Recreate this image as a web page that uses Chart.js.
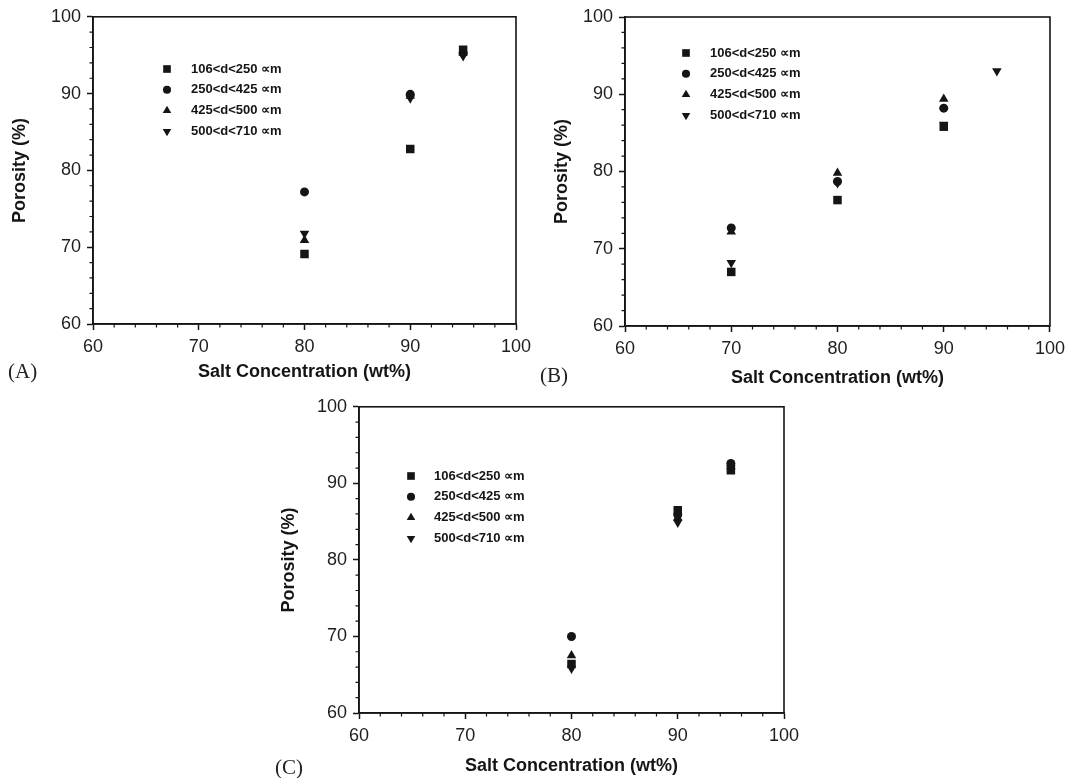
<!DOCTYPE html>
<html>
<head>
<meta charset="utf-8">
<script src="https://cdn.jsdelivr.net/npm/chart.js@4.4.1/dist/chart.umd.min.js"></script>
<style>
  body { margin: 0; background: #fff; }
  .panel { position: absolute; }
</style>
</head>
<body>
<div class="panel" id="wrapA"><canvas id="chartA"></canvas></div>
<div class="panel" id="wrapB"><canvas id="chartB"></canvas></div>
<div class="panel" id="wrapC"><canvas id="chartC"></canvas></div>
<script>
// ====== DATA ======
const sizeLabels = ["106<d<250 ∝m", "250<d<425 ∝m", "425<d<500 ∝m", "500<d<710 ∝m"];
const axisTicks = [60, 70, 80, 90, 100];
const minorStep = 2;

// (A)
const concA = [80, 90, 95];
const porA106 = [69.1, 82.8, 95.7];
const porA250 = [77.2, 89.9, 95.3];
const porA425 = [70.9, 89.7, 95.3];
const porA500 = [71.8, 89.4, 94.9];

// (B)
const concB = [70, 80, 90, 95];
const porB106 = [67.0, 76.3, 85.8, null];
const porB250 = [72.7, 78.7, 88.2, null];
const porB425 = [72.2, 79.8, 89.4, null];
const porB500 = [68.2, 78.5, 86.1, 93.0];

// (C)
const concC = [80, 90, 95];
const porC106 = [66.4, 86.5, 91.7];
const porC250 = [70.0, 85.9, 92.6];
const porC425 = [67.5, 85.5, 92.2];
const porC500 = [65.8, 84.9, 92.0];

// marker look per size class
const markers = [
  { pointStyle: "rect", radius: 6.0, rotation: 0 },
  { pointStyle: "circle", radius: 4.5, rotation: 0 },
  { pointStyle: "triangle", radius: 5.5, rotation: 0 },
  { pointStyle: "triangle", radius: 5.5, rotation: 180 }
];

const INK = "#151515";
const SANS = "'Liberation Sans', Arial, sans-serif";

// Frame, minor ticks, inset legend and panel tag
const framePlugin = {
  id: "frame",
  afterDraw(chart, args, opts) {
    const { ctx, chartArea: a, scales } = chart;
    ctx.save();
    ctx.strokeStyle = INK;
    ctx.lineWidth = 1.6;
    ctx.strokeRect(a.left, a.top, a.right - a.left, a.bottom - a.top);

    ctx.lineWidth = 1.2;
    ctx.beginPath();
    for (let v = axisTicks[0]; v <= axisTicks[axisTicks.length - 1]; v += minorStep) {
      if (axisTicks.includes(v)) continue;
      const px = scales.x.getPixelForValue(v);
      ctx.moveTo(px, a.bottom);
      ctx.lineTo(px, a.bottom + 3.5);
      const py = scales.y.getPixelForValue(v);
      ctx.moveTo(a.left, py);
      ctx.lineTo(a.left - 3.5, py);
    }
    ctx.stroke();

    // legend
    ctx.fillStyle = INK;
    ctx.font = "bold 13px " + SANS;
    ctx.textBaseline = "middle";
    ctx.textAlign = "left";
    chart.data.datasets.forEach((ds, i) => {
      const y = opts.legendY + i * 20.8;
      Chart.helpers.drawPoint(ctx, {
        pointStyle: ds.pointStyle,
        rotation: ds.pointRotation,
        radius: ds.pointRadius * 0.9,
        borderWidth: 0
      }, opts.legendX, y);
      ctx.fillText(ds.label, opts.textX, y);
    });

    // panel tag
    ctx.font = "21px 'Liberation Serif', 'Times New Roman', serif";
    ctx.fillStyle = "#222";
    ctx.fillText(opts.tag, opts.tagX, opts.tagY);
    ctx.restore();
  }
};

function makePanel(p) {
  const [cl, ct, cw, ch] = p.canvas;
  const [al, at, ar, ab] = p.area;
  const wrap = document.getElementById("wrap" + p.tagId);
  wrap.style.left = cl + "px";
  wrap.style.top = ct + "px";
  const canvas = document.getElementById("chart" + p.tagId);
  canvas.width = cw;
  canvas.height = ch;
  canvas.style.width = cw + "px";
  canvas.style.height = ch + "px";

  const datasets = p.series.map((vals, i) => ({
    label: sizeLabels[i],
    data: p.conc.map((x, j) => ({ x: x, y: vals[j] })).filter(pt => pt.y !== null),
    pointStyle: markers[i].pointStyle,
    pointRadius: markers[i].radius,
    pointRotation: markers[i].rotation,
    backgroundColor: INK,
    borderWidth: 0,
    showLine: false
  }));

  const axis = (titleText, titlePad) => ({
    type: "linear",
    min: axisTicks[0],
    max: axisTicks[axisTicks.length - 1],
    afterBuildTicks: s => { s.ticks = axisTicks.map(v => ({ value: v })); },
    grid: { drawOnChartArea: false, drawTicks: true, tickLength: 6, tickWidth: 1.5, tickColor: INK, color: INK },
    border: { display: true, color: INK, width: 1.6 },
    ticks: { color: "#1e1e1e", padding: 6, font: { family: SANS, size: 18 } },
    title: { display: true, text: titleText, color: INK, padding: titlePad, font: { family: SANS, size: 18, weight: "bold" } }
  });

  const xScale = axis("Salt Concentration (wt%)", { top: 0, bottom: (ct + ch) - p.xTitleY - 10.8 });
  xScale.afterFit = s => { s.height = (ct + ch) - ab; };
  const yScale = axis("Porosity (%)", { top: p.yTitleX - cl - 10.8, bottom: 0 });
  yScale.afterFit = s => { s.width = al - cl; };

  new Chart(canvas.getContext("2d"), {
    type: "scatter",
    data: { datasets: datasets },
    options: {
      responsive: false,
      animation: false,
      events: [],
      layout: { padding: { left: 0, top: at - ct, right: (cl + cw) - ar, bottom: 0 } },
      scales: { x: xScale, y: yScale },
      plugins: {
        legend: { display: false },
        tooltip: { enabled: false },
        frame: {
          legendX: p.legend[0] - cl,
          legendY: p.legend[1] - ct,
          textX: p.legend[2] - cl,
          tag: "(" + p.tagId + ")",
          tagX: p.tag[0] - cl,
          tagY: p.tag[1] - ct
        }
      }
    },
    plugins: [framePlugin]
  });
}

makePanel({
  tagId: "A", canvas: [0, 0, 540, 390], area: [93, 16, 516, 324],
  yTitleX: 20, xTitleY: 372, legend: [167, 69, 191], tag: [8, 372],
  conc: concA, series: [porA106, porA250, porA425, porA500]
});
makePanel({
  tagId: "B", canvas: [540, 0, 531, 395], area: [625, 17, 1050, 326],
  yTitleX: 562, xTitleY: 378, legend: [686, 53, 710], tag: [540, 376],
  conc: concB, series: [porB106, porB250, porB425, porB500]
});
makePanel({
  tagId: "C", canvas: [260, 390, 560, 388], area: [359, 405, 784, 713],
  yTitleX: 289, xTitleY: 766, legend: [411, 476, 434], tag: [275, 768],
  conc: concC, series: [porC106, porC250, porC425, porC500]
});
</script>
</body>
</html>
